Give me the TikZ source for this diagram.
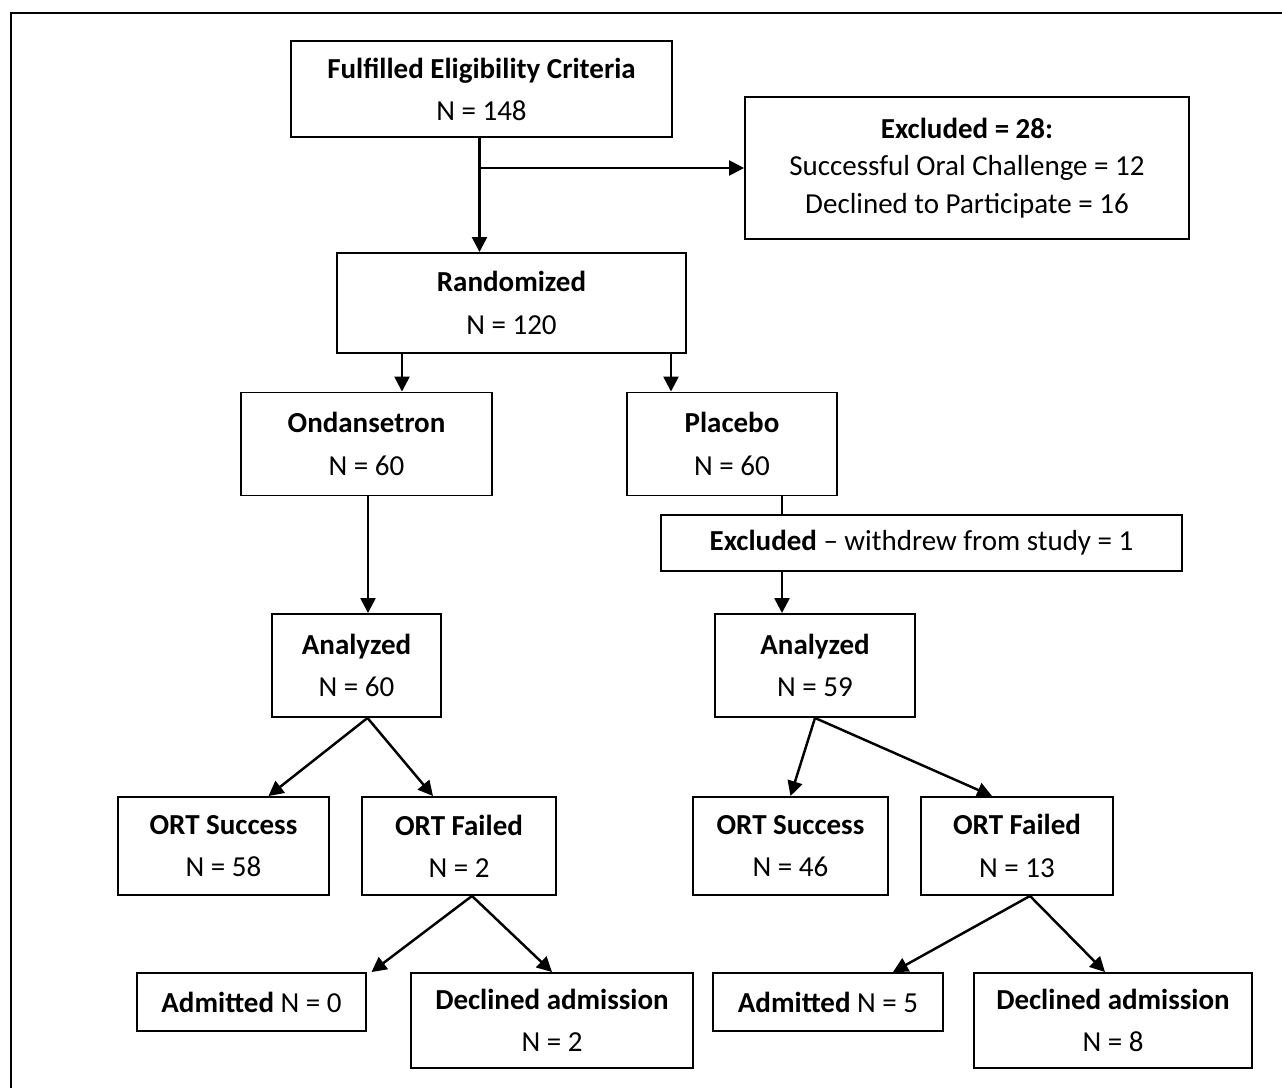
\documentclass[tikz,border=0pt]{standalone}
\usepackage{fontspec}
\setmainfont{Carlito}
\usetikzlibrary{positioning}
\usetikzlibrary{arrows.meta}
\usetikzlibrary{calc}
\tikzset{>={Triangle[length=8.5pt,width=8.5pt]}}

\begin{document}
\begin{tikzpicture}[x=0.02cm, y=-0.02cm, line width=1.4pt,
    box/.style={draw, line width=1.1pt, inner sep=0pt, align=center,
      font=\fontsize{16.5}{24}\selectfont},
    tight/.style={font=\fontsize{16.5}{21.5}\selectfont}]
  \clip (0,0) rectangle (1282,1088);
  \draw[line width=1.7pt] (11,13) rectangle (1330,1130);

  % top part
  \node[box, minimum width=7.62cm, minimum height=1.92cm] (Elig) at (481.5,89)
    {\textbf{Fulfilled Eligibility Criteria}\\ N = 148};
  \node[box, tight, minimum width=8.88cm, minimum height=2.84cm] (Excl) at (967,168)
    {\textbf{Excluded = 28:}\\ Successful Oral Challenge = 12\\ Declined to Participate = 16};
  \node[box, minimum width=6.98cm, minimum height=2.00cm] (Rand) at (511.5,303)
    {\textbf{Randomized}\\ N = 120};

  % arms
  \node[box, minimum width=5.02cm, minimum height=2.06cm] (Ond) at (366.5,444)
    {\textbf{Ondansetron}\\ N = 60};
  \node[box, minimum width=4.20cm, minimum height=2.06cm] (Plac) at (732,444)
    {\textbf{Placebo}\\ N = 60};
  \node[box, minimum width=10.42cm, minimum height=1.12cm] (Wdr) at (921.5,543)
    {\textbf{Excluded} -- withdrew from study = 1};
  \node[box, minimum width=3.38cm, minimum height=2.06cm] (AnL) at (356.5,665.5)
    {\textbf{Analyzed}\\ N = 60};
  \node[box, minimum width=4.00cm, minimum height=2.06cm] (AnR) at (815,665.5)
    {\textbf{Analyzed}\\ N = 59};

  % outcomes
  \node[box, minimum width=4.22cm, minimum height=1.96cm] (SucL) at (223.5,846)
    {\textbf{ORT Success}\\ N = 58};
  \node[box, minimum width=3.88cm, minimum height=1.96cm] (FailL) at (459,846)
    {\textbf{ORT Failed}\\ N = 2};
  \node[box, minimum width=3.90cm, minimum height=1.96cm] (SucR) at (790.5,846)
    {\textbf{ORT Success}\\ N = 46};
  \node[box, minimum width=3.84cm, minimum height=1.96cm] (FailR) at (1017,846)
    {\textbf{ORT Failed}\\ N = 13};
  \node[box, minimum width=4.58cm, minimum height=1.16cm] (AdmL) at (251.5,1002)
    {\textbf{Admitted} N = 0};
  \node[box, minimum width=5.64cm, minimum height=1.90cm] (DecL) at (552,1020.5)
    {\textbf{Declined admission}\\ N = 2};
  \node[box, minimum width=4.60cm, minimum height=1.16cm] (AdmR) at (828,1002)
    {\textbf{Admitted} N = 5};
  \node[box, minimum width=5.56cm, minimum height=1.90cm] (DecR) at (1113,1020.5)
    {\textbf{Declined admission}\\ N = 8};

  % connectors
  \coordinate (B) at ($(Elig.south |- Excl.west)+(-2,0)$);
  \draw[->] (Elig.south -| B) -- (B |- Rand.north);
  \draw[->] (B) -- (Excl.west);
  \draw[->] ($(Rand.south)+(-109.5,0)$) coordinate (R1) -- (R1 |- Ond.north);
  \draw[->] ($(Rand.south)+(159.5,0)$) coordinate (R2) -- (R2 |- Plac.north);
  \draw[->] ($(Ond.south)+(1.5,0)$) coordinate (O1) -- (O1 |- AnL.north);
  \draw ($(Plac.south)+(50,0)$) coordinate (P1) -- (P1 |- Wdr.north);
  \draw[->] (P1 |- Wdr.south) -- (P1 |- AnR.north);
  \path[->]
    ($(AnL.south)+(11,0)$) edge ($(SucL.north)+(45,0)$)
                           edge ($(FailL.north)+(-26,0)$)
    (AnR.south) edge (SucR.north)
                edge ($(FailR.north)+(-25,0)$)
    ($(FailL.south)+(13,0)$) edge ($(AdmL.north)+(120,0)$)
                             edge (DecL.north)
    ($(FailR.south)+(13,0)$) edge ($(AdmR.north)+(65,0)$)
                             edge ($(DecR.north)+(-8,0)$);
\end{tikzpicture}
\end{document}
